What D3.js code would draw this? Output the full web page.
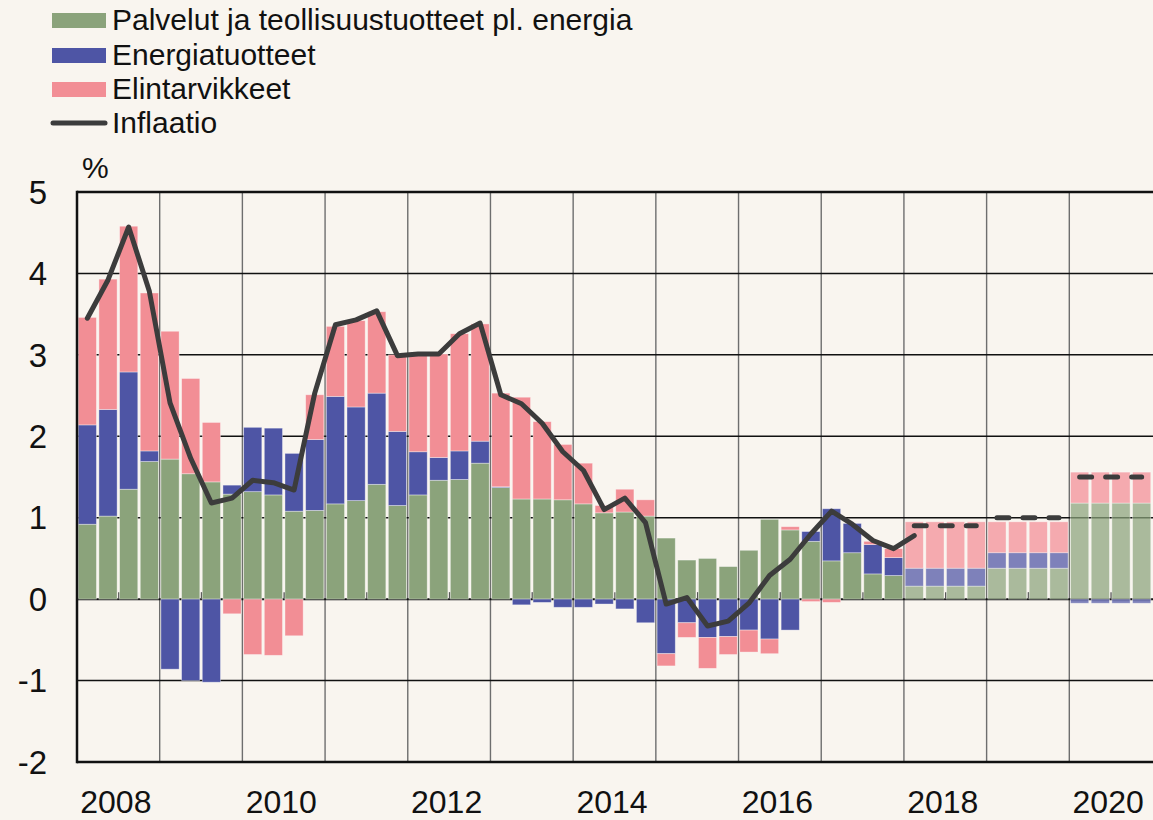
<!DOCTYPE html>
<html>
<head>
<meta charset="utf-8">
<script src="https://cdn.jsdelivr.net/npm/d3@7"></script>
<style>
  body { margin: 0; background: #f9f5ef; }
  svg { display: block; font-family: "Liberation Sans", Arial, sans-serif; }
</style>
</head>
<body>
<svg id="chart" width="1153" height="820"></svg>
<script>
// quarterly data 2008Q1 - 2020Q4, contributions to inflation (%-points)
const years = [2008, 2009, 2010, 2011, 2012, 2013, 2014, 2015, 2016, 2017, 2018, 2019, 2020];
const labelYears = [2008, 2010, 2012, 2014, 2016, 2018, 2020];
const yTicks = [5, 4, 3, 2, 1, 0, -1, -2];

const services = [
  0.92, 1.02, 1.35, 1.69,
  1.72, 1.54, 1.44, 1.29,
  1.32, 1.28, 1.08, 1.09,
  1.17, 1.21, 1.41, 1.15,
  1.28, 1.46, 1.47, 1.67,
  1.37, 1.23, 1.23, 1.22,
  1.17, 1.06, 1.07, 1.02,
  0.75, 0.48, 0.50, 0.40,
  0.60, 0.98, 0.85, 0.71,
  0.47, 0.57, 0.31, 0.29,
  0.16, 0.16, 0.16, 0.16,
  0.38, 0.38, 0.38, 0.38,
  1.18, 1.18, 1.18, 1.18
];
const energy = [
  1.22, 1.31, 1.44, 0.13,
  -0.86, -1.00, -1.02, 0.11,
  0.79, 0.82, 0.71, 0.87,
  1.32, 1.15, 1.12, 0.91,
  0.53, 0.28, 0.35, 0.27,
  0.01, -0.07, -0.04, -0.10,
  -0.10, -0.06, -0.12, -0.29,
  -0.67, -0.29, -0.47, -0.46,
  -0.38, -0.49, -0.38, 0.12,
  0.64, 0.36, 0.36, 0.22,
  0.22, 0.22, 0.22, 0.22,
  0.19, 0.19, 0.19, 0.19,
  -0.05, -0.05, -0.05, -0.05
];
const food = [
  1.32, 1.60, 1.79, 1.94,
  1.57, 1.17, 0.73, -0.18,
  -0.68, -0.69, -0.45, 0.55,
  0.86, 1.06, 1.00, 0.94,
  1.18, 1.27, 1.44, 1.44,
  1.15, 1.25, 0.95, 0.68,
  0.50, 0.09, 0.28, 0.20,
  -0.15, -0.18, -0.38, -0.22,
  -0.27, -0.18, 0.04, -0.03,
  -0.04, 0.00, 0.04, 0.11,
  0.57, 0.57, 0.57, 0.57,
  0.38, 0.38, 0.38, 0.38,
  0.38, 0.38, 0.38, 0.38
];
// actual inflation 2008Q1 - 2018Q1
const inflation = [
  3.45, 3.92, 4.57, 3.78,
  2.41, 1.73, 1.18, 1.24,
  1.46, 1.43, 1.34, 2.53,
  3.37, 3.43, 3.54, 2.99,
  3.01, 3.01, 3.26, 3.39,
  2.51, 2.40, 2.16, 1.81,
  1.58, 1.10, 1.24, 0.94,
  -0.06, 0.02, -0.33, -0.27,
  -0.05, 0.29, 0.49, 0.80,
  1.08, 0.92, 0.72, 0.62,
  0.78
];
// forecast, annual
const forecastYears = [2018, 2019, 2020];
const forecastInflation = [0.9, 1.0, 1.5];
const forecastFrom = 2018;

const seriesKeys = ["services", "energy", "food"];
const seriesNames = ["Palvelut ja teollisuustuotteet pl. energia", "Energiatuotteet", "Elintarvikkeet"];
const colors = { services: "#8ba37b", energy: "#4e55a5", food: "#f28e95" };
const lineColor = "#3c3c3c";

const quarters = years.flatMap(y => ["Q1", "Q2", "Q3", "Q4"].map(q => y + q));
const rows = quarters.map((q, i) => ({
  q: q, year: +q.slice(0, 4),
  services: services[i], energy: energy[i], food: food[i]
}));

const margin = { top: 192, right: 1, bottom: 58, left: 77 };
const width = 1153, height = 820;

const svg = d3.select("#chart");
svg.append("rect").attr("width", width).attr("height", height).attr("fill", "#f9f5ef");

const xYear = d3.scaleLinear()
  .domain([2008, 2021])
  .range([margin.left, width - margin.right]);

const x = d3.scaleBand()
  .domain(quarters)
  .range([margin.left, width - margin.right])
  .paddingInner(0.12)
  .paddingOuter(0.06);

const y = d3.scaleLinear()
  .domain([-2, 5])
  .range([height - margin.bottom, margin.top]);

// grid behind bars
const grid = svg.append("g");
grid.selectAll("line.v")
  .data(years.slice(1))
  .join("line")
  .attr("class", "v")
  .attr("x1", d => xYear(d)).attr("x2", d => xYear(d))
  .attr("y1", y(5)).attr("y2", y(-2))
  .attr("stroke", "#6e6e6e")
  .attr("stroke-width", 1.4);

grid.selectAll("line.h")
  .data(yTicks)
  .join("line")
  .attr("class", "h")
  .attr("x1", margin.left).attr("x2", width)
  .attr("y1", d => y(d)).attr("y2", d => y(d))
  .attr("stroke", "#111")
  .attr("stroke-width", d => (d === 5 || d === -2) ? 2.5 : (d === 0 ? 2 : 1.5));

// small ticks at the zero line, mid-year
svg.append("g")
  .attr("transform", `translate(0,${y(0)})`)
  .call(d3.axisBottom(xYear).tickValues(years.map(d => d + 0.5)).tickSize(-7).tickFormat(""))
  .call(g => g.select(".domain").remove())
  .call(g => g.selectAll(".tick line").attr("stroke", "#555").attr("stroke-width", 1.5));

// stacked bars
const stack = d3.stack().keys(seriesKeys).offset(d3.stackOffsetDiverging);
const stacked = stack(rows);

svg.append("g")
  .selectAll("g")
  .data(stacked)
  .join("g")
  .attr("fill", d => colors[d.key])
  .selectAll("rect")
  .data(d => d)
  .join("rect")
  .attr("x", d => x(d.data.q))
  .attr("width", x.bandwidth())
  .attr("y", d => y(Math.max(d[0], d[1])))
  .attr("height", d => Math.abs(y(d[0]) - y(d[1])))
  .attr("fill-opacity", d => d.data.year >= forecastFrom ? 0.72 : 1)
  .attr("stroke", "#ffffff")
  .attr("stroke-opacity", 0.45)
  .attr("stroke-width", 0.8);

// left frame
svg.append("line")
  .attr("x1", margin.left).attr("x2", margin.left)
  .attr("y1", y(5) - 1.2).attr("y2", y(-2) + 1.2)
  .attr("stroke", "#111").attr("stroke-width", 2.5);

// inflation line
const line = d3.line()
  .x((d, i) => x(quarters[i]) + x.bandwidth() / 2)
  .y(d => y(d));

svg.append("path")
  .datum(inflation)
  .attr("fill", "none")
  .attr("stroke", lineColor)
  .attr("stroke-width", 5)
  .attr("stroke-linejoin", "round")
  .attr("stroke-linecap", "round")
  .attr("d", line);

// forecast dashes
svg.append("g")
  .selectAll("line")
  .data(forecastYears.map((yr, i) => ({ yr: yr, v: forecastInflation[i] })))
  .join("line")
  .attr("x1", d => x(d.yr + "Q1") + x.bandwidth() / 2)
  .attr("x2", d => x(d.yr + "Q4") + x.bandwidth() / 2)
  .attr("y1", d => y(d.v)).attr("y2", d => y(d.v))
  .attr("stroke", lineColor)
  .attr("stroke-width", 5)
  .attr("stroke-linecap", "round")
  .attr("stroke-dasharray", "12 14");

// y axis labels
svg.append("g")
  .attr("transform", `translate(47,0)`)
  .call(d3.axisLeft(y).tickValues(yTicks).tickSize(0).tickFormat(d => String(d)))
  .call(g => g.select(".domain").remove())
  .call(g => g.selectAll("text")
    .attr("font-family", "Liberation Sans, Arial, sans-serif")
    .attr("font-size", 33)
    .attr("fill", "#111")
    .attr("x", 0)
    .attr("dy", "0.34em"));

svg.append("text")
  .attr("x", 82).attr("y", 178)
  .attr("font-size", 30)
  .attr("fill", "#111")
  .text("%");

// x axis labels
svg.append("g")
  .attr("transform", `translate(0,${y(-2)})`)
  .call(d3.axisBottom(xYear).tickValues(labelYears.map(d => d + 0.5)).tickSize(0)
    .tickFormat(d => String(Math.floor(d))))
  .call(g => g.select(".domain").remove())
  .call(g => g.selectAll("text")
    .attr("font-family", "Liberation Sans, Arial, sans-serif")
    .attr("font-size", 32)
    .attr("fill", "#111")
    .attr("x", -3)
    .attr("y", 51)
    .attr("dy", 0));

// legend
const legend = svg.append("g");
const legendRows = [
  { name: seriesNames[0], color: colors.services, type: "rect" },
  { name: seriesNames[1], color: colors.energy, type: "rect" },
  { name: seriesNames[2], color: colors.food, type: "rect" },
  { name: "Inflaatio", color: lineColor, type: "line" }
];
const baselines = [30, 65, 99, 133];
legendRows.forEach((d, i) => {
  const b = baselines[i];
  if (d.type === "rect") {
    legend.append("rect")
      .attr("x", 52).attr("y", b - 17)
      .attr("width", 54).attr("height", 15)
      .attr("fill", d.color);
  } else {
    legend.append("line")
      .attr("x1", 53).attr("x2", 105)
      .attr("y1", b - 10).attr("y2", b - 10)
      .attr("stroke", d.color)
      .attr("stroke-width", 5)
      .attr("stroke-linecap", "round");
  }
  legend.append("text")
    .attr("x", 112).attr("y", b)
    .attr("font-size", 30)
    .attr("fill", "#111")
    .text(d.name);
});
</script>
</body>
</html>
